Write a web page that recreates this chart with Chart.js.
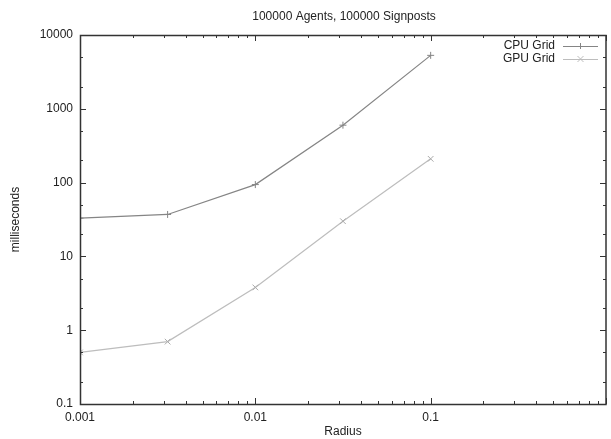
<!DOCTYPE html>
<html>
<head>
<meta charset="utf-8">
<script src="https://cdn.jsdelivr.net/npm/chart.js@4/dist/chart.umd.min.js"></script>
<style>
  html, body { margin: 0; padding: 0; background: #ffffff; }
  #wrap { width: 611px; height: 439px; }
</style>
</head>
<body>
<div id="wrap"><canvas id="c" width="611" height="439"></canvas></div>
<script>
// ---- data ----
const chartTitle = "100000 Agents, 100000 Signposts";
const xAxisTitle = "Radius";
const yAxisTitle = "milliseconds";
const radius = [0.001, 0.00316, 0.01, 0.0316, 0.1];
const cpuGrid = [33, 37, 94, 600, 5300];
const gpuGrid = [0.5, 0.7, 3.8, 30, 210];
const seriesNames = ["CPU Grid", "GPU Grid"];
const xTickValues = [0.001, 0.01, 0.1];
const yTickValues = [0.1, 1, 10, 100, 1000, 10000];
const xRange = [0.001, 1];
const yRange = [0.1, 10000];

const FONT = "'Liberation Sans', Arial, Helvetica, sans-serif";
const TEXT = "#222";
const AXIS = "#333";
const CPU_COLOR = "#858585";
const GPU_COLOR = "#bdbdbd";

const toPoints = (xs, ys) => xs.map((x, i) => ({ x: x, y: ys[i] }));

const framePlugin = {
  id: "frame",
  afterDraw(chart) {
    const ctx = chart.ctx;
    const a = chart.chartArea;
    const xs = chart.scales.x, ys = chart.scales.y;
    ctx.save();
    // ticks (inward, mirrored)
    ctx.strokeStyle = AXIS;
    ctx.lineWidth = 1;
    const major = 6, minor = 3;
    ctx.beginPath();
    for (let d = xRange[0]; d < xRange[1] * 1.0001; d *= 10) {
      const px = Math.round(xs.getPixelForValue(d)) + 0.5;
      ctx.moveTo(px, a.bottom); ctx.lineTo(px, a.bottom - major);
      ctx.moveTo(px, a.top); ctx.lineTo(px, a.top + major);
      if (d < xRange[1] / 1.0001) {
        for (let k = 2; k <= 9; k++) {
          const p = Math.round(xs.getPixelForValue(d * k)) + 0.5;
          ctx.moveTo(p, a.bottom); ctx.lineTo(p, a.bottom - minor);
          ctx.moveTo(p, a.top); ctx.lineTo(p, a.top + minor);
        }
      }
    }
    for (let d = yRange[0]; d < yRange[1] * 1.0001; d *= 10) {
      const py = Math.round(ys.getPixelForValue(d)) + 0.5;
      ctx.moveTo(a.left, py); ctx.lineTo(a.left + major, py);
      ctx.moveTo(a.right, py); ctx.lineTo(a.right - major, py);
      if (d < yRange[1] / 1.0001) {
        [2, 5].forEach(k => {
          const p = Math.round(ys.getPixelForValue(d * k)) + 0.5;
          ctx.moveTo(a.left, p); ctx.lineTo(a.left + minor, p);
          ctx.moveTo(a.right, p); ctx.lineTo(a.right - minor, p);
        });
      }
    }
    ctx.stroke();
    // border
    ctx.lineWidth = 1.5;
    ctx.strokeRect(a.left + 0.5, a.top + 0.5, a.right - a.left - 0.5, a.bottom - a.top);
    // title
    ctx.fillStyle = TEXT;
    ctx.font = "12px " + FONT;
    ctx.textAlign = "center";
    ctx.textBaseline = "middle";
    ctx.fillText(chartTitle, (a.left + a.right) / 2 + 1, 17);
    // legend (gnuplot style, top right)
    const rows = [46, 59];
    chart.data.datasets.forEach((ds, i) => {
      const y = rows[i];
      ctx.fillStyle = TEXT;
      ctx.font = "12px " + FONT;
      ctx.textAlign = "right";
      ctx.fillText(ds.label, 555, y);
      ctx.strokeStyle = ds.borderColor;
      ctx.lineWidth = 1;
      ctx.beginPath();
      ctx.moveTo(563, y + 0.5); ctx.lineTo(598, y + 0.5);
      const cx = 580.5, r = 3;
      if (ds.pointStyle === "cross") {
        ctx.moveTo(cx - r, y + 0.5); ctx.lineTo(cx + r, y + 0.5);
        ctx.moveTo(cx, y - r); ctx.lineTo(cx, y + r);
      } else {
        ctx.moveTo(cx - r, y - r); ctx.lineTo(cx + r, y + r);
        ctx.moveTo(cx - r, y + r); ctx.lineTo(cx + r, y - r);
      }
      ctx.stroke();
    });
    ctx.restore();
  }
};

new Chart(document.getElementById("c"), {
  type: "scatter",
  data: {
    datasets: [
      {
        label: seriesNames[0],
        data: toPoints(radius, cpuGrid),
        showLine: true,
        borderColor: CPU_COLOR,
        backgroundColor: CPU_COLOR,
        borderWidth: 1.2,
        pointStyle: "cross",
        pointRadius: 3.5,
        pointBorderWidth: 1,
        pointBorderColor: CPU_COLOR
      },
      {
        label: seriesNames[1],
        data: toPoints(radius, gpuGrid),
        showLine: true,
        borderColor: GPU_COLOR,
        backgroundColor: GPU_COLOR,
        borderWidth: 1.2,
        pointStyle: "crossRot",
        pointRadius: 4,
        pointBorderWidth: 1,
        pointBorderColor: "#aaaaaa"
      }
    ]
  },
  options: {
    responsive: false,
    animation: false,
    devicePixelRatio: 1,
    layout: { padding: { top: 35, right: 1, left: 0, bottom: 0 } },
    plugins: {
      legend: { display: false },
      title: { display: false },
      tooltip: { enabled: false }
    },
    scales: {
      x: {
        type: "logarithmic",
        position: "bottom",
        min: xRange[0],
        max: xRange[1],
        afterBuildTicks(scale) { scale.ticks = xTickValues.map(v => ({ value: v })); },
        afterFit(scale) { scale.height = 35; },
        grid: { display: false, drawTicks: false },
        border: { display: false },
        ticks: {
          autoSkip: false,
          maxRotation: 0,
          padding: 6,
          color: TEXT,
          font: { family: FONT, size: 12 },
          callback: (v) => String(v)
        },
        title: {
          display: true,
          text: xAxisTitle,
          color: TEXT,
          font: { family: FONT, size: 12 },
          padding: { top: 0, bottom: 0 }
        }
      },
      y: {
        type: "logarithmic",
        position: "left",
        min: yRange[0],
        max: yRange[1],
        afterBuildTicks(scale) { scale.ticks = yTickValues.map(v => ({ value: v })); },
        afterFit(scale) { scale.width = 80; },
        grid: { display: false, drawTicks: false },
        border: { display: false },
        ticks: {
          autoSkip: false,
          padding: 7,
          color: TEXT,
          font: { family: FONT, size: 12 },
          callback: (v) => String(v)
        },
        title: {
          display: true,
          text: yAxisTitle,
          color: TEXT,
          font: { family: FONT, size: 12 },
          padding: { top: 8, bottom: 0 }
        }
      }
    }
  },
  plugins: [framePlugin]
});
</script>
</body>
</html>
